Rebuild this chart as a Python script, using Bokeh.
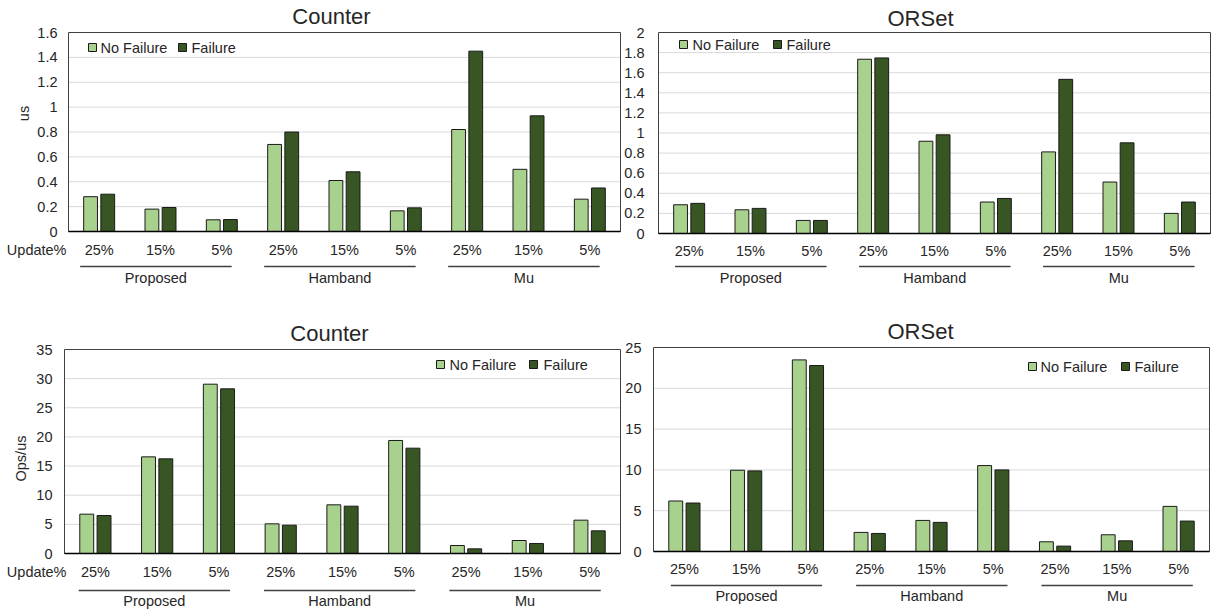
import math
from bokeh.plotting import figure
from bokeh.layouts import column, row
from bokeh.models import Range1d
from bokeh.core.properties import value
from bokeh.embed import file_html
from bokeh.resources import INLINE

# ---------------- data ----------------
categories = ["25%", "15%", "5%", "25%", "15%", "5%", "25%", "15%", "5%"]
groups = ["Proposed", "Hamband", "Mu"]
series_names = ["No Failure", "Failure"]

counter_lat_nofail = [0.28, 0.18, 0.094, 0.70, 0.41, 0.166, 0.82, 0.50, 0.26]
counter_lat_fail = [0.30, 0.193, 0.096, 0.80, 0.48, 0.19, 1.45, 0.93, 0.35]
orset_lat_nofail = [0.286, 0.236, 0.13, 1.734, 0.918, 0.313, 0.812, 0.512, 0.20]
orset_lat_fail = [0.30, 0.25, 0.13, 1.747, 0.982, 0.349, 1.534, 0.902, 0.313]
counter_tp_nofail = [6.75, 16.58, 29.05, 5.09, 8.35, 19.39, 1.37, 2.23, 5.72]
counter_tp_fail = [6.52, 16.24, 28.25, 4.86, 8.12, 18.07, 0.80, 1.72, 3.89]
orset_tp_nofail = [6.19, 9.96, 23.48, 2.34, 3.81, 10.53, 1.19, 2.05, 5.53]
orset_tp_fail = [5.94, 9.88, 22.79, 2.21, 3.57, 10.0, 0.66, 1.31, 3.73]

counter_lat_ticks = [0, 0.2, 0.4, 0.6, 0.8, 1, 1.2, 1.4, 1.6]
counter_lat_labels = ["0", "0.2", "0.4", "0.6", "0.8", "1", "1.2", "1.4", "1.6"]
orset_lat_ticks = [0, 0.2, 0.4, 0.6, 0.8, 1, 1.2, 1.4, 1.6, 1.8, 2]
orset_lat_labels = ["0", "0.2", "0.4", "0.6", "0.8", "1", "1.2", "1.4", "1.6", "1.8", "2"]
counter_tp_ticks = [0, 5, 10, 15, 20, 25, 30, 35]
counter_tp_labels = ["0", "5", "10", "15", "20", "25", "30", "35"]
orset_tp_ticks = [0, 5, 10, 15, 20, 25]
orset_tp_labels = ["0", "5", "10", "15", "20", "25"]

# ---------------- style ----------------
LIGHT = "#A9D18E"
DARK = "#375623"
TXT = "#262626"
FONT = value("Liberation Sans")
FS = value("14.5px")
TFS = value("22px")


def panel(canvas, frame, ticks, tick_labels, nofail, fail, title, title_pos,
          ylabel, ylabel_pos, show_update, tick_right, cat_y, line_y, grp_y,
          inset, legend):
    X0, X1, Y0, Y1 = canvas
    L, R, T, B = frame
    ymax = ticks[-1]
    pxc = (R - L) / 9.0
    pxu = (B - T) / ymax

    def X(px):
        return -0.5 + (px - L) / pxc

    def Y(py):
        return (B - py) / pxu

    p = figure(width=X1 - X0, height=Y1 - Y0,
               x_range=Range1d(X(X0), X(X1)), y_range=Range1d(Y(Y1), Y(Y0)),
               output_backend="svg", toolbar_location=None, tools="",
               x_axis_location=None, y_axis_location=None,
               min_border=0, outline_line_color=None)
    p.grid.visible = False
    p.background_fill_color = "white"
    p.border_fill_color = "white"

    idx = list(range(len(categories)))
    # gridlines
    gt = ticks[1:-1]
    p.segment(x0=[-0.5] * len(gt), x1=[8.5] * len(gt), y0=gt, y1=gt,
              line_color="#D9D9D9", line_width=1)
    # bars
    p.vbar(x=[i - 0.14 for i in idx], top=nofail, bottom=0, width=0.225,
           fill_color=LIGHT, line_color="#1a1a1a", line_width=1)
    p.vbar(x=[i + 0.14 for i in idx], top=fail, bottom=0, width=0.225,
           fill_color=DARK, line_color="#1a1a1a", line_width=1)
    # frame & zero line
    p.quad(left=[-0.5], right=[8.5], bottom=[0], top=[ymax],
           fill_color=None, line_color="#404040", line_width=1)
    p.segment(x0=[-0.5], x1=[8.5], y0=[0], y1=[0], line_color="#000000",
              line_width=1.5)

    # y tick labels
    p.text(x=[X(tick_right)] * len(ticks), y=ticks, text=tick_labels,
           text_font=FONT, text_font_size=FS, text_color=TXT,
           text_align="right", text_baseline="middle")
    # category labels
    p.text(x=idx, y=[Y(cat_y)] * len(idx), text=categories,
           text_font=FONT, text_font_size=FS, text_color=TXT,
           text_align="center", text_baseline="middle")
    if show_update:
        p.text(x=[X(66)], y=[Y(cat_y)], text=["Update%"],
               text_font=FONT, text_font_size=FS, text_color=TXT,
               text_align="right", text_baseline="middle")
    # group lines and labels
    a, b = inset
    gx0 = [g * 3 - 0.5 + a for g in range(len(groups))]
    gx1 = [g * 3 + 2.5 - b for g in range(len(groups))]
    p.segment(x0=gx0, x1=gx1, y0=[Y(line_y)] * 3, y1=[Y(line_y)] * 3,
              line_color="#404040", line_width=1.3)
    p.text(x=[(u + v) / 2 for u, v in zip(gx0, gx1)], y=[Y(grp_y)] * 3,
           text=groups, text_font=FONT, text_font_size=FS, text_color=TXT,
           text_align="center", text_baseline="middle")
    # title
    p.text(x=[X(title_pos[0])], y=[Y(title_pos[1])], text=[title],
           text_font=FONT, text_font_size=TFS, text_color=TXT,
           text_align="center", text_baseline="middle")
    if ylabel:
        p.text(x=[X(ylabel_pos[0])], y=[Y(ylabel_pos[1])], text=[ylabel],
               angle=math.pi / 2, text_font=FONT, text_font_size=FS,
               text_color=TXT, text_align="center", text_baseline="middle")
    # legend
    (c1, t1, c2, t2, ly) = legend
    p.rect(x=[X(c1), X(c2)], y=[Y(ly), Y(ly)], width=8, height=8,
           width_units="screen", height_units="screen",
           fill_color=[LIGHT, DARK], line_color="#1a1a1a", line_width=1)
    p.text(x=[X(t1), X(t2)], y=[Y(ly), Y(ly)], text=series_names,
           text_font=FONT, text_font_size=FS, text_color=TXT,
           text_align="left", text_baseline="middle")
    return p


SPLIT_X = 622
SPLIT_Y = 302
W, H = 1213, 609

p1 = panel(canvas=(0, SPLIT_X, 0, SPLIT_Y), frame=(68, 620, 32, 231),
           ticks=counter_lat_ticks, tick_labels=counter_lat_labels,
           nofail=counter_lat_nofail, fail=counter_lat_fail,
           title="Counter", title_pos=(331, 16), ylabel="us", ylabel_pos=(23, 113),
           show_update=True, tick_right=57, cat_y=249, line_y=266, grp_y=277,
           inset=(0.19, 0.34), legend=(92, 100, 182, 191, 47))
p2 = panel(canvas=(SPLIT_X, W, 0, SPLIT_Y), frame=(658, 1210, 32, 233),
           ticks=orset_lat_ticks, tick_labels=orset_lat_labels,
           nofail=orset_lat_nofail, fail=orset_lat_fail,
           title="ORSet", title_pos=(920, 18), ylabel=None, ylabel_pos=None,
           show_update=False, tick_right=644, cat_y=250, line_y=266, grp_y=277,
           inset=(0.27, 0.26), legend=(683, 692, 777, 786, 44))
p3 = panel(canvas=(0, SPLIT_X, SPLIT_Y, H), frame=(64, 620, 349, 553),
           ticks=counter_tp_ticks, tick_labels=counter_tp_labels,
           nofail=counter_tp_nofail, fail=counter_tp_fail,
           title="Counter", title_pos=(329, 333), ylabel="Ops/us", ylabel_pos=(20, 458),
           show_update=True, tick_right=52, cat_y=571, line_y=590, grp_y=600,
           inset=(0.23, 0.32), legend=(440, 449, 533, 543, 364))
p4 = panel(canvas=(SPLIT_X, W, SPLIT_Y, H), frame=(653, 1209, 347, 551),
           ticks=orset_tp_ticks, tick_labels=orset_tp_labels,
           nofail=orset_tp_nofail, fail=orset_tp_fail,
           title="ORSet", title_pos=(920, 331), ylabel=None, ylabel_pos=None,
           show_update=False, tick_right=641, cat_y=568, line_y=585, grp_y=595,
           inset=(0.28, 0.27), legend=(1032, 1040, 1125, 1134, 366))

layout = column(row(p1, p2), row(p3, p4))
open("out.html", "w").write(file_html(layout, INLINE))
